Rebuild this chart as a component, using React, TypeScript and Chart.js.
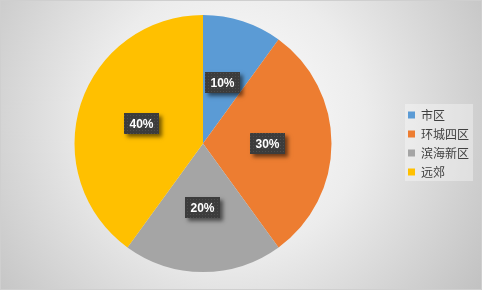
import { useEffect, useRef } from "react";
import { Chart, registerables } from "chart.js";

Chart.register(...registerables);

const categories = ["市区", "环城四区", "滨海新区", "远郊"];
const shares = [10, 30, 20, 40];
const percentLabels = ["10%", "30%", "20%", "40%"];
const sliceColors = ["#5B9BD5", "#ED7D31", "#A5A5A5", "#FFC000"];

const W = 482;
const H = 290;

function makeDotPattern(ctx: CanvasRenderingContext2D) {
  const c = document.createElement("canvas");
  c.width = 3;
  c.height = 3;
  const p = c.getContext("2d")!;
  p.fillStyle = "#3c3c3c";
  p.fillRect(0, 0, 3, 3);
  p.fillStyle = "#4e4e4e";
  p.fillRect(1, 1, 1, 1);
  return ctx.createPattern(c, "repeat");
}

const backgroundPlugin = {
  id: "bg",
  beforeDraw(chart: any) {
    const ctx = chart.ctx as CanvasRenderingContext2D;
    ctx.save();
    const g = ctx.createRadialGradient(230, 120, 0, 230, 120, 300);
    g.addColorStop(0, "#ffffff");
    g.addColorStop(0.45, "#ececec");
    g.addColorStop(1, "#c2c2c2");
    ctx.fillStyle = g;
    ctx.fillRect(0, 0, chart.width, chart.height);
    ctx.strokeStyle = "#cfcfcf";
    ctx.lineWidth = 1;
    ctx.strokeRect(0.5, 0.5, chart.width - 1, chart.height - 1);
    const lg = chart.legend;
    if (lg && lg.legendHitBoxes && lg.legendHitBoxes.length) {
      const hb = lg.legendHitBoxes;
      const first = hb[0];
      const last = hb[hb.length - 1];
      const x0 = first.left - 3;
      const y0 = first.top - 5;
      const y1 = last.top + last.height + 3;
      let maxR = 0;
      hb.forEach((h: any) => (maxR = Math.max(maxR, h.left + h.width)));
      ctx.fillStyle = "rgba(255,255,255,0.35)";
      ctx.fillRect(x0, y0, maxR + 4 - x0, y1 - y0);
    }
    ctx.restore();
  },
};

const labelPlugin = {
  id: "boxLabels",
  afterDatasetsDraw(chart: any) {
    const ctx = chart.ctx as CanvasRenderingContext2D;
    const meta = chart.getDatasetMeta(0);
    const pattern = makeDotPattern(ctx);
    ctx.save();
    ctx.font = "bold 12px 'Liberation Sans', Arial, sans-serif";
    ctx.textAlign = "center";
    ctx.textBaseline = "middle";
    meta.data.forEach((arc: any, i: number) => {
      const { x, y } = arc.tooltipPosition();
      const text = percentLabels[i];
      const tw = ctx.measureText(text).width;
      const bw = Math.round(tw + 11);
      const bh = 21;
      const bx = Math.round(x - bw / 2);
      const by = Math.round(y - bh / 2);
      ctx.save();
      ctx.shadowColor = "rgba(0,0,0,0.55)";
      ctx.shadowBlur = 4;
      ctx.shadowOffsetX = 3;
      ctx.shadowOffsetY = 3;
      ctx.fillStyle = "#3c3c3c";
      ctx.fillRect(bx, by, bw, bh);
      ctx.restore();
      if (pattern) {
        ctx.fillStyle = pattern;
        ctx.fillRect(bx, by, bw, bh);
      }
      ctx.fillStyle = "#ffffff";
      ctx.fillText(text, bx + bw / 2, by + bh / 2 + 1);
    });
    ctx.restore();
  },
};

export default function App() {
  const ref = useRef<HTMLCanvasElement | null>(null);
  useEffect(() => {
    if (!ref.current) return;
    const chart = new Chart(ref.current, {
      type: "pie",
      data: {
        labels: categories,
        datasets: [
          {
            data: shares,
            backgroundColor: sliceColors,
            borderWidth: 0,
            hoverOffset: 0,
          },
        ],
      },
      options: {
        animation: false,
        responsive: false,
        devicePixelRatio: 1,
        layout: { padding: { left: 5, right: 3, top: 15, bottom: 18 } },
        plugins: {
          tooltip: { enabled: false },
          legend: {
            position: "right",
            labels: {
              boxWidth: 7,
              boxHeight: 7,
              padding: 7,
              color: "#404040",
              font: { size: 12, family: "'Noto Sans CJK SC', sans-serif" },
            },
          },
        },
      },
      plugins: [backgroundPlugin, labelPlugin],
    });
    return () => chart.destroy();
  }, []);
  return (
    <div style={{ position: "absolute", left: 0, top: 0, width: W, height: H }}>
      <canvas ref={ref} width={W} height={H} style={{ display: "block", width: W, height: H }} />
    </div>
  );
}
